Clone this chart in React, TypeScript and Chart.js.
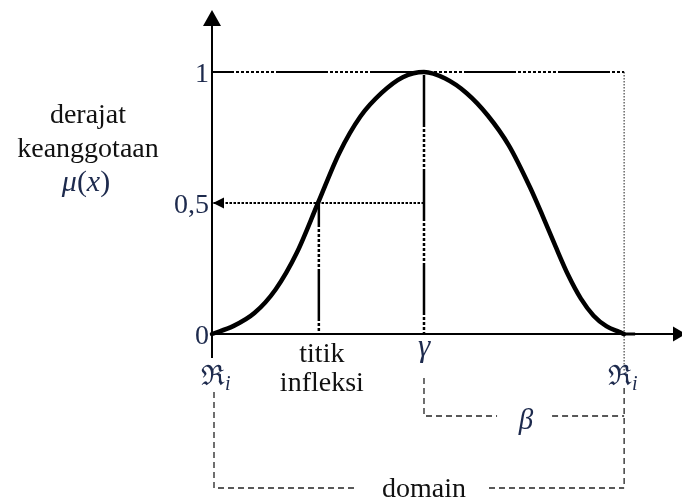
import React, { useEffect, useRef } from 'react';
import { Chart, registerables } from 'chart.js';

Chart.register(...registerables);

// Membership curve samples: x in domain units, μ(x) in [0, 1]
const curveX = [0, 5, 10, 15, 20, 25, 30, 35, 40, 45, 50, 55, 60, 65, 70, 75, 78, 81, 84, 87, 90, 93, 96, 97.2];
const curveMu = [0, 0.03, 0.08, 0.17, 0.31, 0.5, 0.69, 0.83, 0.92, 0.98, 1, 0.975, 0.92, 0.835, 0.72, 0.56, 0.45, 0.335, 0.225, 0.135, 0.07, 0.03, 0.008, 0];

// Key points on the domain
const domainStart = 0;
const inflection = 25.2;
const gamma = 50;
const domainEnd = 97.2;
const halfMembership = 0.5;
const fullMembership = 1;

// Text
const yTickValues = [0, 0.5, 1];
const yTickLabels = ['0', '0,5', '1'];
const yTitleLines = ['derajat', 'keanggotaan'];
const inflectionLabel = ['titik', 'infleksi'];
const domainLabel = 'domain';

const SERIF = '"Liberation Serif", "Times New Roman", serif';
const INK = '#111111';
const MATH_INK = '#1d2a4d';

// Long dash followed by a run of dots
const DASH_DOT = [52, 2, 3, 2, 3, 2, 3, 2, 3, 2, 3, 2, 3, 2, 3, 2, 3, 2];

type Run = { t: string; font: string; dy?: number };

function drawRuns(ctx: CanvasRenderingContext2D, runs: Run[], x: number, baseline: number, align: 'center' | 'left' | 'right') {
  let total = 0;
  const widths = runs.map((r) => {
    ctx.font = r.font;
    const w = ctx.measureText(r.t).width;
    total += w;
    return w;
  });
  let cx = align === 'center' ? x - total / 2 : align === 'right' ? x - total : x;
  ctx.textAlign = 'left';
  ctx.textBaseline = 'alphabetic';
  runs.forEach((r, i) => {
    ctx.font = r.font;
    ctx.fillText(r.t, cx, baseline + (r.dy || 0));
    cx += widths[i];
  });
}

function dashedPath(ctx: CanvasRenderingContext2D, pts: [number, number][], dash: number[], width: number, color: string) {
  ctx.save();
  ctx.strokeStyle = color;
  ctx.lineWidth = width;
  ctx.setLineDash(dash);
  ctx.beginPath();
  pts.forEach(([px, py], i) => (i === 0 ? ctx.moveTo(px, py) : ctx.lineTo(px, py)));
  ctx.stroke();
  ctx.restore();
}

function triangle(ctx: CanvasRenderingContext2D, a: [number, number], b: [number, number], c: [number, number]) {
  ctx.beginPath();
  ctx.moveTo(a[0], a[1]);
  ctx.lineTo(b[0], b[1]);
  ctx.lineTo(c[0], c[1]);
  ctx.closePath();
  ctx.fill();
}

const axesPlugin = {
  id: 'membershipAxes',
  beforeDatasetsDraw(chart: any) {
    const ctx: CanvasRenderingContext2D = chart.ctx;
    const xs = chart.scales.x;
    const ys = chart.scales.y;
    const x0 = xs.getPixelForValue(domainStart);
    const xE = xs.getPixelForValue(domainEnd);
    const y0 = ys.getPixelForValue(0);
    ctx.save();
    ctx.strokeStyle = '#000';
    ctx.fillStyle = '#000';
    ctx.lineWidth = 2;
    ctx.setLineDash([]);
    // vertical axis
    ctx.beginPath();
    ctx.moveTo(x0, 20);
    ctx.lineTo(x0, y0 + 24);
    ctx.stroke();
    triangle(ctx, [x0, 10], [x0 - 9, 26], [x0 + 9, 26]);
    // horizontal axis
    ctx.beginPath();
    ctx.moveTo(x0, y0);
    ctx.lineTo(chart.width - 8, y0);
    ctx.stroke();
    triangle(ctx, [chart.width + 4, y0], [chart.width - 9, y0 - 7.5], [chart.width - 9, y0 + 7.5]);
    // short heavy stub where the curve meets the axis on the right
    ctx.lineWidth = 3;
    ctx.beginPath();
    ctx.moveTo(xE, y0);
    ctx.lineTo(xE + 11, y0);
    ctx.stroke();
    ctx.restore();
  },
  afterDatasetsDraw(chart: any) {
    const ctx: CanvasRenderingContext2D = chart.ctx;
    const xs = chart.scales.x;
    const ys = chart.scales.y;
    const x0 = xs.getPixelForValue(domainStart);
    const xInf = xs.getPixelForValue(inflection);
    const xG = xs.getPixelForValue(gamma);
    const xE = xs.getPixelForValue(domainEnd);
    const y0 = ys.getPixelForValue(0);
    const yHalf = ys.getPixelForValue(halfMembership);

    ctx.save();
    // arrow head of the 0.5 projection
    ctx.fillStyle = '#000';
    triangle(ctx, [x0 + 1, yHalf], [x0 + 12, yHalf - 5.5], [x0 + 12, yHalf + 5.5]);

    // brackets for β and the domain
    const bDash = [6, 4];
    const yBeta = y0 + 82;
    const yDom = y0 + 154;
    const midBeta = (xG + xE) / 2;
    dashedPath(ctx, [[xG, y0 + 44], [xG, yBeta], [midBeta - 27, yBeta]], bDash, 1.3, '#222');
    dashedPath(ctx, [[midBeta + 28, yBeta], [xE, yBeta]], bDash, 1.3, '#222');
    dashedPath(ctx, [[xE, y0 + 54], [xE, yDom]], bDash, 1.3, '#222');
    dashedPath(ctx, [[x0 + 2, y0 + 58], [x0 + 2, yDom], [xG - 66, yDom]], bDash, 1.3, '#222');
    dashedPath(ctx, [[xG + 65, yDom], [xE, yDom]], bDash, 1.3, '#222');

    // y tick labels
    ctx.fillStyle = MATH_INK;
    yTickValues.forEach((v, i) => {
      drawRuns(ctx, [{ t: yTickLabels[i], font: `28px ${SERIF}` }], x0 - 3, ys.getPixelForValue(v) + 10, 'right');
    });

    // y title
    const titleX = x0 - 124;
    ctx.fillStyle = INK;
    drawRuns(ctx, [{ t: yTitleLines[0], font: `28px ${SERIF}` }], titleX, 123, 'center');
    drawRuns(ctx, [{ t: yTitleLines[1], font: `28px ${SERIF}` }], titleX, 157, 'center');
    ctx.fillStyle = MATH_INK;
    drawRuns(
      ctx,
      [
        { t: 'μ', font: `italic 30px ${SERIF}` },
        { t: '(', font: `30px ${SERIF}` },
        { t: 'x', font: `italic 30px ${SERIF}` },
        { t: ')', font: `30px ${SERIF}` },
      ],
      titleX - 2,
      191,
      'center'
    );

    // x labels
    ctx.fillStyle = INK;
    drawRuns(ctx, [{ t: inflectionLabel[0], font: `28px ${SERIF}` }], xInf + 3, y0 + 28, 'center');
    drawRuns(ctx, [{ t: inflectionLabel[1], font: `28px ${SERIF}` }], xInf + 3, y0 + 57, 'center');
    drawRuns(ctx, [{ t: domainLabel, font: `28px ${SERIF}` }], xG, y0 + 163, 'center');

    ctx.fillStyle = MATH_INK;
    drawRuns(ctx, [{ t: 'γ', font: `italic 31px ${SERIF}` }], xG, y0 + 22, 'center');
    drawRuns(ctx, [{ t: 'β', font: `italic 29px ${SERIF}` }], midBeta + 2, y0 + 95, 'center');

    const frak = (px: number) => {
      const runs: Run[] = [
        { t: 'ℜ', font: `28px "DejaVu Serif", ${SERIF}` },
        { t: 'i', font: `italic 20px ${SERIF}`, dy: 5 },
      ];
      ctx.font = runs[0].font;
      const w = ctx.measureText('ℜ').width;
      drawRuns(ctx, runs, px - w / 2, y0 + 51, 'left');
    };
    frak(x0 + 1);
    frak(xE - 4);
    ctx.restore();
  },
};

const line = (pts: { x: number; y: number }[], extra: Record<string, unknown>) => ({
  data: pts,
  borderColor: '#000',
  pointRadius: 0,
  fill: false,
  tension: 0,
  ...extra,
});

export default function App() {
  const ref = useRef<HTMLCanvasElement | null>(null);

  useEffect(() => {
    if (!ref.current) return;
    const curve = curveX.map((x, i) => ({ x, y: curveMu[i] }));
    const chart = new Chart(ref.current, {
      type: 'line',
      data: {
        datasets: [
          line(curve, { borderWidth: 4.5, cubicInterpolationMode: 'monotone', borderCapStyle: 'round', borderJoinStyle: 'round' }),
          line(
            [
              { x: domainStart, y: fullMembership },
              { x: domainEnd, y: fullMembership },
            ],
            { borderWidth: 2, borderDash: DASH_DOT, borderDashOffset: 30 }
          ),
          line(
            [
              { x: gamma, y: fullMembership },
              { x: gamma, y: 0 },
            ],
            { borderWidth: 2.5, borderDash: DASH_DOT, borderDashOffset: -3 }
          ),
          line(
            [
              { x: inflection, y: halfMembership },
              { x: inflection, y: 0 },
            ],
            { borderWidth: 2.5, borderDash: DASH_DOT, borderDashOffset: 28 }
          ),
          line(
            [
              { x: gamma, y: halfMembership },
              { x: domainStart, y: halfMembership },
            ],
            { borderWidth: 2, borderDash: [2.5, 1.5] }
          ),
          line(
            [
              { x: domainEnd, y: fullMembership },
              { x: domainEnd, y: -0.14 },
            ],
            { borderWidth: 1.2, borderDash: [1.5, 1.5], borderColor: '#444' }
          ),
        ],
      },
      options: {
        animation: false,
        responsive: false,
        devicePixelRatio: 1,
        layout: { padding: 0 },
        plugins: { legend: { display: false }, tooltip: { enabled: false }, title: { display: false } },
        events: [],
        scales: {
          x: { type: 'linear', min: -50, max: 110.85, display: false },
          y: { type: 'linear', min: -0.6374, max: 1.2748, display: false },
        },
      },
      plugins: [axesPlugin],
    } as any);
    return () => chart.destroy();
  }, []);

  return (
    <div style={{ position: 'fixed', left: 0, top: 0, width: 682, height: 501, background: '#fff' }}>
      <canvas ref={ref} width={682} height={501} style={{ display: 'block' }} />
    </div>
  );
}
